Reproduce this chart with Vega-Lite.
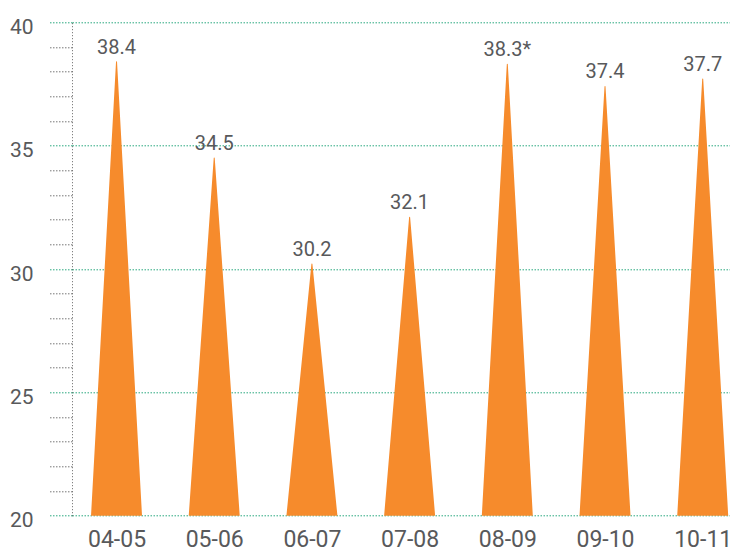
{
  "$schema": "https://vega.github.io/schema/vega-lite/v6.json",
  "width": 658,
  "height": 493.4,
  "autosize": "none",
  "padding": {"left": 72, "top": 22.3, "right": 0, "bottom": 34.3},
  "background": "white",
  "config": {"view": {"stroke": null}, "font": "Roboto"},
  "data": {
    "values": [
      {"season": "04-05", "value": 38.4, "base": 20, "label": "38.4"},
      {"season": "05-06", "value": 34.5, "base": 20, "label": "34.5"},
      {"season": "06-07", "value": 30.2, "base": 20, "label": "30.2"},
      {"season": "07-08", "value": 32.1, "base": 20, "label": "32.1"},
      {"season": "08-09", "value": 38.3, "base": 20, "label": "38.3*"},
      {"season": "09-10", "value": 37.4, "base": 20, "label": "37.4"},
      {"season": "10-11", "value": 37.7, "base": 20, "label": "37.7"}
    ]
  },
  "encoding": {
    "x": {
      "field": "season",
      "type": "ordinal",
      "scale": {"type": "point", "padding": 0.3675, "align": 0.62},
      "axis": {
        "title": null,
        "domain": false,
        "ticks": false,
        "tickSize": 0,
        "grid": false,
        "labelAngle": 0,
        "labelFont": "Roboto",
        "labelFontSize": 23,
        "labelColor": "#58595B",
        "labelPadding": 31,
        "labelBaseline": "alphabetic"
      }
    },
    "y": {
      "field": "value",
      "type": "quantitative",
      "scale": {"domain": [20, 40], "nice": false, "zero": false},
      "axis": {
        "title": null,
        "values": [20, 21, 22, 23, 24, 25, 26, 27, 28, 29, 30, 31, 32, 33, 34, 35, 36, 37, 38, 39, 40],
        "grid": true,
        "gridColor": "#2AA97F",
        "gridDash": [1.5, 1.5],
        "gridWidth": 1,
        "gridOpacity": {"condition": {"test": "datum.value % 5 === 0", "value": 1}, "value": 0},
        "tickSize": 24,
        "tickWidth": 1,
        "tickDash": [1.5, 1.5],
        "tickColor": {"condition": {"test": "datum.value % 5 === 0", "value": "#2AA97F"}, "value": "#777777"},
        "domain": true,
        "domainColor": "#666666",
        "domainDash": [1, 2],
        "domainWidth": 1,
        "labelExpr": "datum.value % 5 === 0 ? datum.label : ''",
        "labelFont": "Roboto",
        "labelFontSize": 21,
        "labelColor": "#58595B",
        "labelPadding": 15,
        "labelBaseline": "alphabetic",
        "labelOffset": 11,
        "labelOverlap": false,
        "labelBound": false,
        "labelFlush": false
      }
    }
  },
  "layer": [
    {
      "transform": [{"fold": ["base", "value"], "as": ["key", "value"]}],
      "mark": {"type": "trail", "clip": true, "color": "#F68B2C"},
      "encoding": {
        "size": {
          "field": "key",
          "type": "nominal",
          "scale": {"type": "point", "padding": 0, "domain": ["base", "value"], "range": [51, 0]},
          "legend": null
        },
        "detail": {"field": "season"}
      }
    },
    {
      "mark": {"type": "text", "dy": -8, "baseline": "alphabetic", "align": "center", "fontSize": 20, "font": "Roboto", "color": "#58595B"},
      "encoding": {
        "text": {"field": "label"}
      }
    }
  ]
}
